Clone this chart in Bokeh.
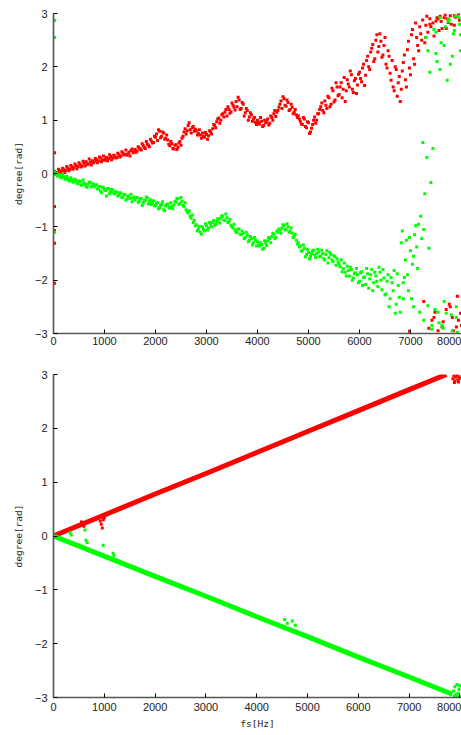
from bokeh.plotting import figure
from bokeh.models import Range1d, FixedTicker
from bokeh.layouts import column
from bokeh.embed import file_html
from bokeh.resources import INLINE

RED = "#ff0000"
GREEN = "#00ff00"

# ---------------- top panel: measured phase (rad) per FFT bin ----------------
# bin centre frequencies (Hz): set A at 0,40,...,8000 and set B at 20,60,...,7980
top_freq_a = [i * 40 for i in range(201)]
top_freq_b = [20 + i * 40 for i in range(200)]

top_red_a = [
    0.00, 0.02, 0.01, 0.05, 0.04, 0.07, 0.06, 0.10, 0.08, 0.12,
    0.11, 0.15, 0.13, 0.17, 0.14, 0.19, 0.22, 0.18, 0.21, 0.24,
    0.22, 0.26, 0.24, 0.29, 0.26, 0.25, 0.30, 0.28, 0.32, 0.29,
    0.33, 0.30, 0.35, 0.33, 0.38, 0.36, 0.34, 0.40, 0.43, 0.39,
    0.45, 0.42, 0.48, 0.44, 0.52, 0.47, 0.55, 0.50, 0.61, 0.58,
    0.68, 0.62, 0.79, 0.70, 0.76, 0.66, 0.63, 0.52, 0.56, 0.46,
    0.54, 0.49, 0.60, 0.66, 0.78, 0.74, 0.90, 0.82, 0.86, 0.79,
    0.80, 0.75, 0.72, 0.76, 0.68, 0.73, 0.71, 0.78, 0.84, 0.90,
    0.97, 1.04, 1.00, 1.12, 1.15, 1.08, 1.20, 1.16, 1.28, 1.19,
    1.25, 1.38, 1.22, 1.30, 1.14, 1.18, 1.06, 1.10, 1.02, 0.96,
    1.00, 0.93, 0.98, 0.90, 0.95, 1.02, 0.94, 1.05, 1.12, 1.07,
    1.18, 1.30, 1.22, 1.40, 1.26, 1.33, 1.20, 1.24, 1.15, 1.10,
    1.08, 0.98, 0.92, 1.02, 0.86, 0.95, 0.78, 0.92, 1.06, 1.00,
    1.12, 1.25, 1.18, 1.36, 1.22, 1.42, 1.30, 1.55, 1.38, 1.62,
    1.48, 1.70, 1.58, 1.35, 1.76, 1.62, 1.85, 1.52, 1.78, 1.66,
    1.90, 1.72, 2.05, 1.84, 2.20, 1.95, 2.35, 2.10, 2.50, 2.28,
    2.62, 2.18, 2.40, 2.05, 2.30, 1.88, 2.12, 1.55, 1.95, 1.70,
    1.35, 1.92, 2.22, 1.62, 2.48, 1.85, 2.70, 2.05, 2.55, 2.30,
    2.62, 2.88, 2.45, 2.95, -2.90, 2.75, 2.82, -2.60, 2.92, 2.68,
    2.85, -2.78, 2.97, 2.90, -2.45, 2.80, -2.95, 2.93, -2.30, 2.88,
    -2.85,
]

top_red_b = [
    0.04, -0.02, 0.08, 0.00, 0.10, 0.02, 0.13, 0.05, 0.15, 0.08,
    0.18, 0.09, 0.20, 0.12, 0.23, 0.14, 0.17, 0.27, 0.16, 0.20,
    0.28, 0.20, 0.31, 0.22, 0.33, 0.27, 0.24, 0.35, 0.26, 0.34,
    0.29, 0.38, 0.31, 0.41, 0.35, 0.44, 0.37, 0.33, 0.46, 0.41,
    0.40, 0.50, 0.46, 0.56, 0.49, 0.60, 0.53, 0.64, 0.57, 0.70,
    0.74, 0.82, 0.67, 0.78, 0.64, 0.72, 0.55, 0.60, 0.47, 0.53,
    0.45, 0.57, 0.53, 0.70, 0.84, 0.80, 0.95, 0.76, 0.88, 0.83,
    0.72, 0.82, 0.66, 0.70, 0.77, 0.64, 0.80, 0.74, 0.92, 0.86,
    1.02, 0.94, 1.10, 1.06, 1.20, 1.25, 1.13, 1.32, 1.24, 1.35,
    1.43, 1.20, 1.33, 1.08, 1.22, 1.00, 1.14, 0.98, 1.05, 0.92,
    0.96, 1.05, 0.88, 1.00, 0.97, 0.91, 1.08, 1.00, 1.18, 1.15,
    1.24, 1.36, 1.44, 1.28, 1.38, 1.18, 1.30, 1.12, 1.20, 1.05,
    1.02, 0.93, 1.05, 0.88, 0.97, 0.75, 0.85, 1.00, 0.94, 1.12,
    1.20, 1.32, 1.14, 1.28, 1.45, 1.25, 1.60, 1.34, 1.70, 1.46,
    1.62, 1.42, 1.80, 1.55, 1.68, 1.92, 1.58, 1.74, 1.50, 1.86,
    1.78, 1.98, 1.65, 2.12, 2.00, 2.28, 2.42, 2.15, 2.60, 2.38,
    2.48, 2.22, 2.55, 1.98, 2.20, 1.75, 1.62, 2.00, 1.45, 1.82,
    1.58, 2.08, 1.76, 2.32, 1.98, 2.60, 2.15, 2.82, 2.40, 2.75,
    2.50, -2.40, 2.78, 2.65, 2.90, -2.75, 2.58, 2.86, -2.95, 2.95,
    2.72, 2.92, -2.55, 2.83, 2.96, -2.70, 2.78, -2.88, 2.99, -2.62,
]

top_green_a = [
    0.01, -0.02, -0.05, -0.03, -0.08, -0.06, -0.11, -0.09, -0.14, -0.12,
    -0.16, -0.13, -0.19, -0.15, -0.21, -0.18, -0.24, -0.20, -0.17, -0.23,
    -0.25, -0.21, -0.28, -0.33, -0.26, -0.30, -0.42, -0.29, -0.34, -0.31,
    -0.38, -0.35, -0.41, -0.37, -0.44, -0.40, -0.48, -0.43, -0.39, -0.46,
    -0.49, -0.45, -0.52, -0.47, -0.55, -0.50, -0.46, -0.53, -0.58, -0.51,
    -0.60, -0.55, -0.64, -0.58, -0.68, -0.61, -0.57, -0.65, -0.62, -0.59,
    -0.54, -0.48, -0.56, -0.52, -0.62, -0.68, -0.74, -0.80, -0.78, -0.88,
    -0.96, -1.04, -1.10, -1.00, -1.08, -0.98, -1.02, -0.95, -0.92, -0.97,
    -0.90, -0.86, -0.84, -0.80, -0.88, -0.83, -0.90, -0.97, -1.02, -1.06,
    -1.10, -1.04, -1.15, -1.12, -1.20, -1.16, -1.25, -1.22, -1.30, -1.24,
    -1.28, -1.36, -1.33, -1.40, -1.30, -1.26, -1.22, -1.18, -1.14, -1.20,
    -1.10, -1.06, -1.02, -0.98, -1.05, -1.00, -1.08, -1.12, -1.18, -1.25,
    -1.30, -1.36, -1.44, -1.40, -1.52, -1.48, -1.55, -1.46, -1.53, -1.50,
    -1.47, -1.55, -1.50, -1.62, -1.45, -1.58, -1.52, -1.65, -1.56, -1.60,
    -1.70, -1.62, -1.78, -1.85, -1.74, -1.92, -1.80, -1.96, -1.86, -1.90,
    -2.02, -1.84, -1.95, -2.08, -1.88, -1.98, -1.80, -2.05, -1.92, -2.12,
    -1.85, -2.18, -1.96, -2.26, -1.90, -2.35, -2.05, -1.82, -2.45, -2.10,
    -2.60, -1.08, -1.95, -1.25, -2.20, -1.45, -1.70, -1.15, -1.38, -0.95,
    -0.80, 0.58, -0.38, 0.30, -1.40, -0.17, 0.47, -2.55, 2.10, -2.80,
    2.45, -2.90, 2.75, 1.75, 2.88, -2.65, 2.62, 2.95, -2.98, 2.80,
    2.90,
]

top_green_b = [
    0.03, 0.00, -0.02, -0.07, -0.01, -0.10, -0.05, -0.13, -0.08, -0.16,
    -0.11, -0.18, -0.14, -0.22, -0.12, -0.20, -0.26, -0.16, -0.25, -0.19,
    -0.22, -0.29, -0.24, -0.36, -0.27, -0.32, -0.28, -0.38, -0.30, -0.36,
    -0.34, -0.42, -0.36, -0.45, -0.39, -0.50, -0.42, -0.47, -0.53, -0.44,
    -0.45, -0.54, -0.48, -0.60, -0.51, -0.44, -0.57, -0.49, -0.55, -0.61,
    -0.56, -0.66, -0.60, -0.53, -0.70, -0.58, -0.63, -0.55, -0.66, -0.52,
    -0.47, -0.58, -0.45, -0.60, -0.55, -0.72, -0.70, -0.84, -0.92, -0.98,
    -1.08, -0.99, -1.14, -1.05, -0.94, -1.06, -0.92, -1.00, -0.88, -0.95,
    -0.85, -0.93, -0.79, -0.87, -0.76, -0.92, -0.86, -1.00, -0.95, -1.10,
    -1.04, -1.14, -1.08, -1.22, -1.10, -1.28, -1.18, -1.34, -1.20, -1.36,
    -1.34, -1.30, -1.42, -1.26, -1.35, -1.20, -1.30, -1.12, -1.22, -1.08,
    -1.04, -1.12, -0.96, -1.06, -0.94, -1.10, -1.02, -1.20, -1.14, -1.32,
    -1.38, -1.46, -1.34, -1.56, -1.42, -1.60, -1.50, -1.44, -1.58, -1.42,
    -1.56, -1.44, -1.60, -1.52, -1.68, -1.48, -1.62, -1.54, -1.72, -1.66,
    -1.75, -1.84, -1.68, -1.92, -1.82, -1.76, -2.00, -1.88, -1.78, -2.05,
    -1.86, -2.10, -1.94, -1.78, -2.15, -1.90, -2.20, -1.85, -2.02, -1.76,
    -2.00, -1.80, -2.28, -2.02, -2.50, -1.95, -2.20, -2.62, -1.88, -2.32,
    -1.30, -2.05, -1.62, -1.90, -1.20, -2.35, -1.55, -0.98, -1.78, -2.60,
    -1.22, -2.75, 2.55, -2.48, 1.90, -2.92, 2.70, 2.25, -2.60, 2.92,
    -2.85, 2.40, -2.62, 2.85, 2.05, -2.95, 2.68, -2.50, 2.94, 2.30,
]

# extra readings in the noisy high-frequency end and at DC
top_red_extra_f = [20, 20, 20, 20, 20, 6980, 7300, 7380, 7460, 7540, 7620, 7700, 7780, 7860, 7940]
top_red_extra_v = [0.39, -0.62, -1.07, -1.31, -2.06, -2.96, 2.55, 2.80, -2.70, 2.90, -2.88, 2.72, -2.50, 2.96, -2.75]
top_green_extra_f = [20, 20, 20, 6860, 7060, 7260, 7340, 7420, 7500, 7580, 7660, 7740, 7820, 7900, 7980]
top_green_extra_v = [2.87, 2.55, -1.10, -2.35, -2.50, -1.05, 2.30, -2.85, 2.65, 1.95, -2.40, 2.90, 2.20, -2.70, 2.60]

# ---------------- bottom panel: corrected phase (rad) ----------------
bot_red_f = [0, 1000, 2000, 3000, 4000, 5000, 6000, 7000, 7730]
bot_red_v = [0.0, 0.39, 0.78, 1.16, 1.55, 1.94, 2.33, 2.72, 3.0]
bot_green_f = [0, 1000, 2000, 3000, 4000, 5000, 6000, 7000, 7850]
bot_green_v = [0.0, -0.375, -0.75, -1.12, -1.50, -1.87, -2.25, -2.62, -2.94]

bot_red_out_f = [550, 600, 920, 940, 960, 980, 1000, 7860, 7880, 7890, 7900, 7920, 7940, 7960, 7970, 7980, 8000]
bot_red_out_v = [0.26, 0.18, 0.28, 0.22, 0.15, 0.30, 0.34, 2.92, 2.97, 2.85, 2.88, 2.95, 2.99, 2.90, 2.86, 2.96, 2.93]
bot_green_out_f = [326, 350, 619, 640, 660, 977, 1172, 1190, 4550, 4600, 4700, 4760,
                   7870, 7890, 7900, 7920, 7940, 7950, 7960, 7980, 7990, 8000]
bot_green_out_v = [0.06, 0.02, 0.11, -0.08, -0.12, -0.17, -0.32, -0.36, -1.55, -1.62, -1.58, -1.66,
                   -2.88, -2.97, -2.80, -2.95, -2.76, -2.99, -2.92, -2.85, -2.78, -2.98]

x_ticks = [0, 1000, 2000, 3000, 4000, 5000, 6000, 7000, 8000]
y_ticks = [-3, -2, -1, 0, 1, 2, 3]

TICK_FONT = "Liberation Sans"
LABEL_FONT = "DejaVu Sans Mono"


def style(p, xlabel=None):
    p.grid.visible = False
    p.outline_line_color = None
    p.background_fill_color = "white"
    p.border_fill_color = "white"
    for ax in (p.xaxis[0], p.yaxis[0]):
        ax.axis_line_color = "#555555"
        ax.axis_line_width = 1.6
        ax.major_tick_in = 4
        ax.major_tick_out = 0
        ax.major_tick_line_color = "#000000"
        ax.minor_tick_line_color = None
        ax.major_label_text_font = TICK_FONT
        ax.major_label_text_font_size = "11px"
        ax.major_label_text_color = "#222222"
        ax.axis_label_text_font = LABEL_FONT
        ax.axis_label_text_font_size = "9.5px"
        ax.axis_label_text_font_style = "normal"
        ax.axis_label_text_color = "#222222"
    p.xaxis[0].ticker = FixedTicker(ticks=x_ticks)
    p.yaxis[0].ticker = FixedTicker(ticks=y_ticks)
    p.yaxis[0].major_label_standoff = 6
    p.xaxis[0].major_label_standoff = 3
    p.yaxis[0].axis_label = "degree[rad]"
    p.yaxis[0].axis_label_standoff = 8
    if xlabel:
        p.xaxis[0].axis_label = xlabel
        p.xaxis[0].axis_label_standoff = 4
        p.xaxis[0].major_label_standoff = 5


top = figure(width=461, height=350, output_backend="svg", toolbar_location=None,
             x_range=Range1d(0, 8000), y_range=Range1d(-3, 3),
             min_border_left=53, min_border_right=0, min_border_top=13, min_border_bottom=17)
style(top)
for fx, fy, col in ((top_freq_a, top_red_a, RED), (top_freq_b, top_red_b, RED),
                    (top_red_extra_f, top_red_extra_v, RED),
                    (top_freq_a, top_green_a, GREEN), (top_freq_b, top_green_b, GREEN),
                    (top_green_extra_f, top_green_extra_v, GREEN)):
    top.scatter(fx, fy, marker="square", size=3, color=col, line_color=None)

bot = figure(width=461, height=385, output_backend="svg", toolbar_location=None,
             x_range=Range1d(0, 8030), y_range=Range1d(-3, 3),
             min_border_left=50, min_border_right=0, min_border_top=24, min_border_bottom=38)
style(bot, "fs[Hz]")
bot.line(bot_red_f, bot_red_v, line_color=RED, line_width=5)
bot.scatter(bot_red_out_f, bot_red_out_v, marker="square", size=3, color=RED, line_color=None)
bot.line(bot_green_f, bot_green_v, line_color=GREEN, line_width=5)
bot.scatter(bot_green_out_f, bot_green_out_v, marker="square", size=3, color=GREEN, line_color=None)

layout = column(top, bot, spacing=0)
open("out.html", "w").write(file_html(layout, INLINE))
